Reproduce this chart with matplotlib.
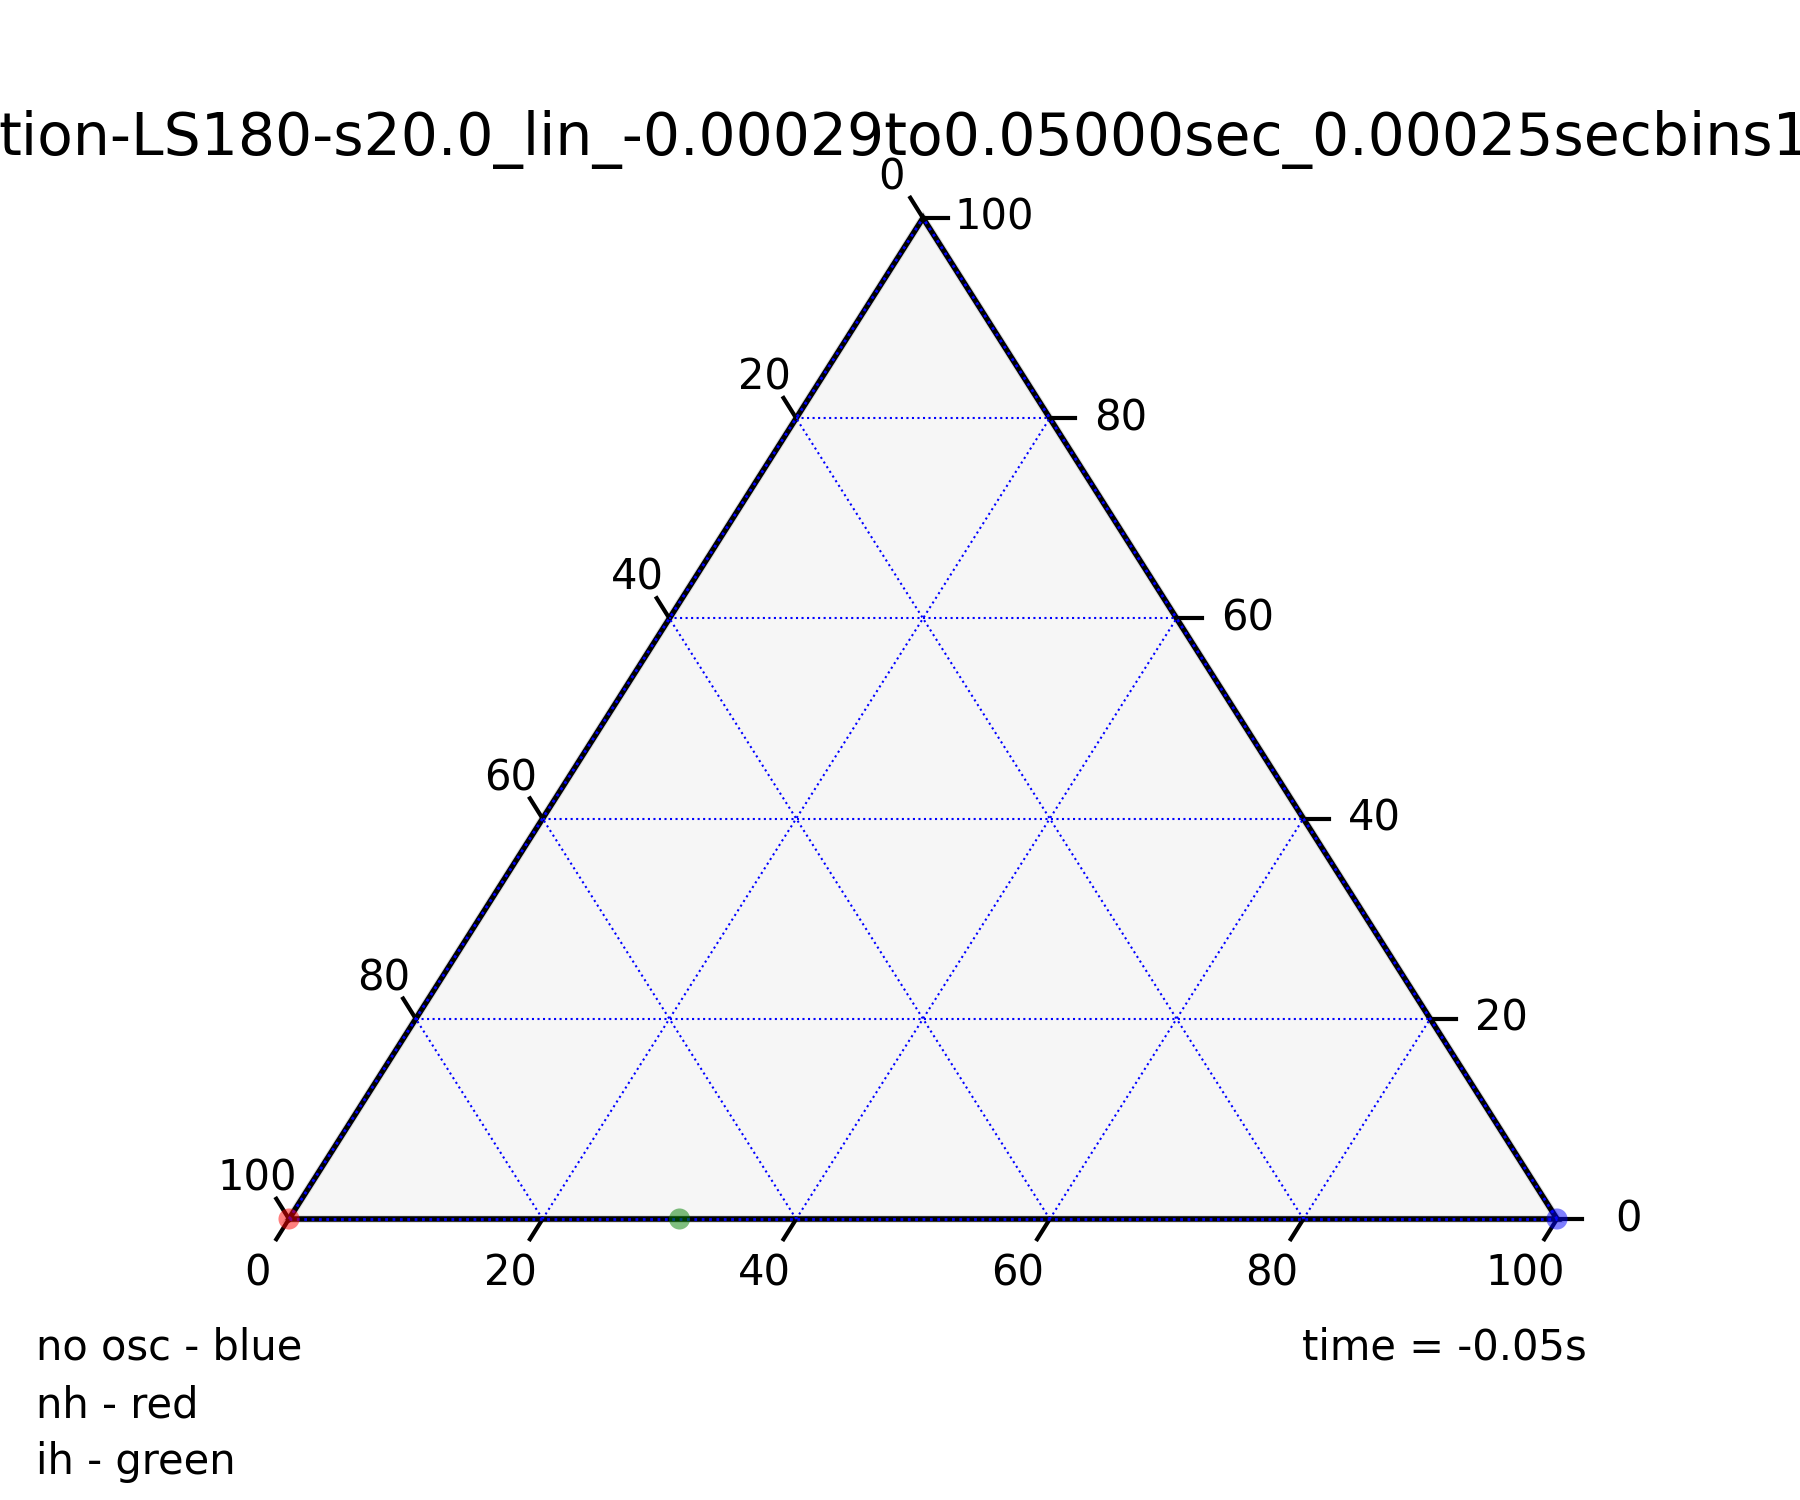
import numpy as np
import matplotlib
matplotlib.use("Agg")
import matplotlib.pyplot as plt

# ternary data (bottom, right, left) in percent
point_names = ["no osc", "nh", "ih"]
point_bottom = [100.0, 0.0, 30.8]
point_right = [0.0, 0.0, 0.0]
point_left = [0.0, 100.0, 69.2]
point_colors = ["blue", "red", "green"]

tick_values = [0, 20, 40, 60, 80, 100]
grid_multiple = 20
title_text = "tion-LS180-s20.0_lin_-0.00029to0.05000sec_0.00025secbins1"
legend_lines = ["no osc - blue", "nh - red", "ih - green"]
time_text = "time = -0.05s"

SCALE = 100.0
H = np.sqrt(3) / 2


def project(a, b):
    # a = bottom axis, b = right axis
    a = np.asarray(a, dtype=float)
    b = np.asarray(b, dtype=float)
    return a + b / 2.0, b * H


W, HT = 1800, 1500
fig = plt.figure(figsize=(18, 15), dpi=100)
ax = fig.add_axes([0, 0, 1, 1])
ax.axis("off")
# map triangle onto the reference pixel box
px_x = 1268 / SCALE
px_y = 1001 / (SCALE * H)
ax.set_xlim(-289 / px_x, (W - 289) / px_x)
ax.set_ylim((1219 - HT) / px_y, 1219 / px_y)

# background
cx, cy = project([0, SCALE, 0, 0], [0, 0, SCALE, 0])
ax.fill(cx, cy, facecolor="#f6f6f6", edgecolor="#dddddd", lw=5.5, zorder=0)

# boundary
ax.plot(cx, cy, color="black", lw=4, zorder=2, solid_joinstyle="miter")

# gridlines (including edges)
for v in np.arange(0, SCALE + 1, grid_multiple):
    lw = 2.0 if v == 0 else 1.5
    # constant right value
    x, y = project([0, SCALE - v], [v, v])
    ax.plot(x, y, color="blue", lw=lw, ls=":", zorder=3)
    # constant bottom value
    x, y = project([v, v], [0, SCALE - v])
    ax.plot(x, y, color="blue", lw=lw, ls=":", zorder=3)
    # constant left value
    x, y = project([SCALE - v, 0], [0, SCALE - v])
    ax.plot(x, y, color="blue", lw=lw, ls=":", zorder=3)

fs = 30
# bottom ticks
for v in tick_values:
    x, y = project(v, 0)
    ax.plot([x, x - 1.0], [y, y - 1.75], color="black", lw=3, zorder=2)
    ax.text(x - 2.5, y - 4.75, str(v), fontsize=fs, ha="center", va="center")
# right ticks
for v in tick_values:
    x, y = project(SCALE - v, v)
    ax.plot([x, x + 2.0], [y, y], color="black", lw=3, zorder=2)
    ax.text(x + 5.6, y, str(v), fontsize=fs, ha="center", va="center")
# left ticks
for v in tick_values:
    x, y = project(0, SCALE - v)
    ax.plot([x, x - 1.0], [y, y + 1.75], color="black", lw=3, zorder=2)
    ax.text(x - 2.5, y + 3.5, str(v), fontsize=fs, ha="center", va="center")

# points
px, py = project(point_bottom, point_right)
ax.scatter(px, py, s=230, c=point_colors, alpha=0.5, lw=0, zorder=5)

fig.text(-2 / W, 1 - 155 / HT, title_text, fontsize=42, ha="left", va="baseline")

for i, line in enumerate(legend_lines):
    fig.text(36 / W, 1 - (1360 + 57 * i) / HT, line, fontsize=fs, ha="left", va="baseline")
fig.text(1587 / W, 1 - 1359 / HT, time_text, fontsize=fs, ha="right", va="baseline")

fig.savefig("out.png", dpi=100)
